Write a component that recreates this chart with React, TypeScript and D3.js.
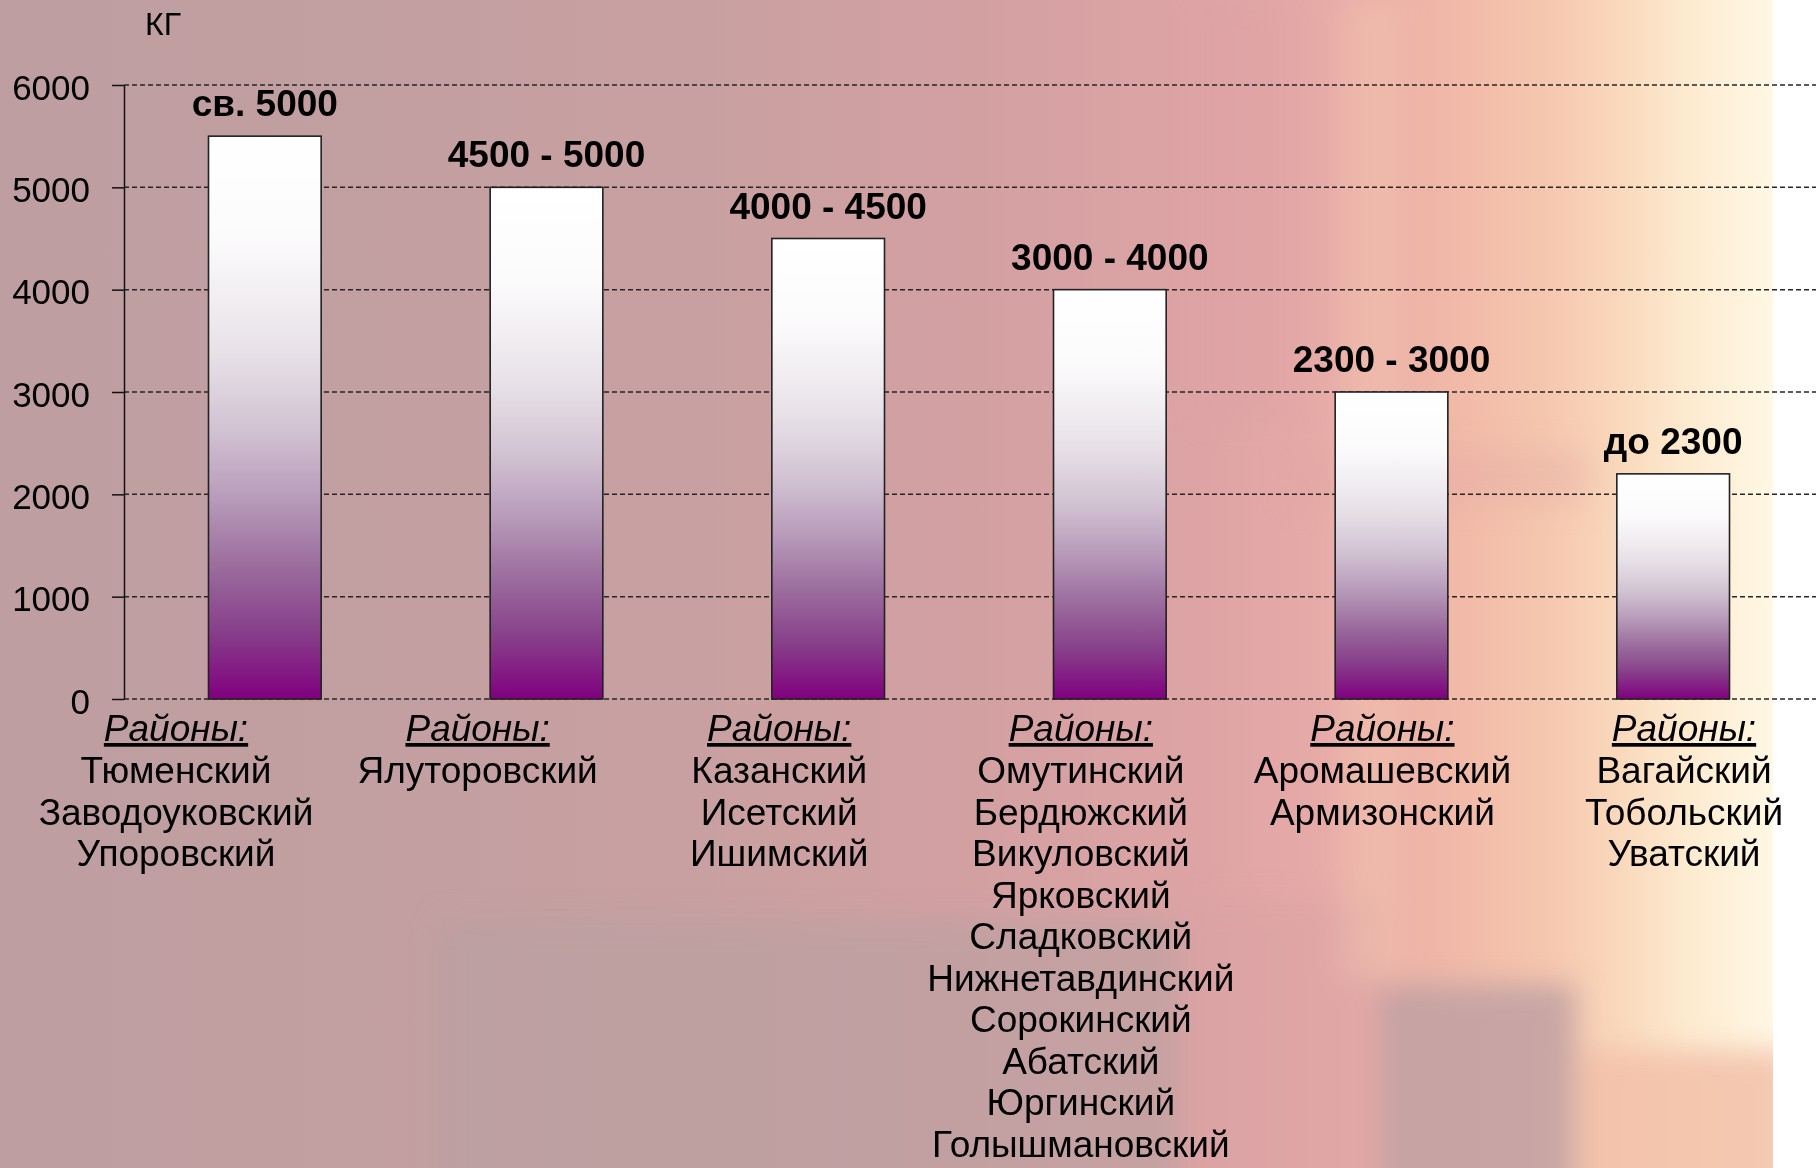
import React, { useRef, useEffect } from "react";
import * as d3 from "d3";

// chart data
const yUnit = "КГ";
const groupTitle = "Районы:";
const rangeLabels = ["св. 5000", "4500 - 5000", "4000 - 4500", "3000 - 4000", "2300 - 3000", "до 2300"];
const yieldValues = [5500, 5000, 4500, 4000, 3000, 2200];
const districts = [
  ["Тюменский", "Заводоуковский", "Упоровский"],
  ["Ялуторовский"],
  ["Казанский", "Исетский", "Ишимский"],
  [
    "Омутинский",
    "Бердюжский",
    "Викуловский",
    "Ярковский",
    "Сладковский",
    "Нижнетавдинский",
    "Сорокинский",
    "Абатский",
    "Юргинский",
    "Голышмановский",
  ],
  ["Аромашевский", "Армизонский"],
  ["Вагайский", "Тобольский", "Уватский"],
];
const yTicks = [0, 1000, 2000, 3000, 4000, 5000, 6000];

const W = 1816;
const H = 1168;
const FONT = "'Liberation Sans', Arial, sans-serif";

export const Chart = () => {
  const chartRef = useRef<SVGSVGElement>(null);

  useEffect(() => {
    document.body.style.margin = "0";
    if (chartRef.current === null) return;

    const svg = d3.select(chartRef.current);
    svg.selectAll("*").remove();
    svg.attr("width", W).attr("height", H);

    const plot = { top: 85, bottom: 699, left: 124, right: 1814 };
    const imgRight = 1773; // the photo behind the chart ends here, white after

    const idx = yieldValues.map((_, i) => i);

    const yScale = d3.scaleLinear().domain([0, 6000]).range([plot.bottom, plot.top]);
    const xScale = d3
      .scaleBand<number>()
      .domain(idx)
      .range([plot.left, plot.right])
      .paddingInner(0.6)
      .paddingOuter(0.3);
    // the district captions sit on their own, slightly wider spacing
    const labelScale = d3.scalePoint<number>().domain(idx).range([176, 1684]);

    const defs = svg.append("defs");

    const bg = defs
      .append("linearGradient")
      .attr("id", "bg")
      .attr("x1", 0)
      .attr("x2", 1)
      .attr("y1", 0)
      .attr("y2", 0);
    [
      [0, "#be9ea1"],
      [0.2, "#c29fa1"],
      [0.4, "#c9a0a1"],
      [0.55, "#d3a0a2"],
      [0.68, "#dea4a5"],
      [0.76, "#e8aca8"],
      [0.82, "#f1b9a8"],
      [0.87, "#f5c6ae"],
      [0.91, "#f9d7ba"],
      [0.95, "#fdeacf"],
      [1, "#fff8e4"],
    ].forEach(([o, c]) => bg.append("stop").attr("offset", o as number).attr("stop-color", c as string));

    const barFill = defs
      .append("linearGradient")
      .attr("id", "barFill")
      .attr("x1", 0)
      .attr("x2", 0)
      .attr("y1", 0)
      .attr("y2", 1);
    [
      [0, "#ffffff"],
      [0.18, "#fcfbfc"],
      [0.38, "#e8e2e8"],
      [0.52, "#d2c3d3"],
      [0.64, "#b99cbb"],
      [0.76, "#9c6e9e"],
      [0.88, "#873f8a"],
      [1, "#80007f"],
    ].forEach(([o, c]) => barFill.append("stop").attr("offset", o as number).attr("stop-color", c as string));

    defs
      .append("filter")
      .attr("id", "soft")
      .attr("x", "-30%")
      .attr("y", "-30%")
      .attr("width", "160%")
      .attr("height", "160%")
      .append("feGaussianBlur")
      .attr("stdDeviation", 14);

    defs
      .append("clipPath")
      .attr("id", "photo")
      .append("rect")
      .attr("x", 0)
      .attr("y", 0)
      .attr("width", imgRight)
      .attr("height", H);

    // background
    svg.append("rect").attr("width", W).attr("height", H).attr("fill", "#ffffff");
    const back = svg.append("g").attr("clip-path", "url(#photo)");
    back.append("rect").attr("width", imgRight).attr("height", H).attr("fill", "url(#bg)");
    const patches: [number, number, number, number, string, number][] = [
      [440, 920, 740, 300, "#b8a0a1", 0.6],
      [1180, 900, 200, 300, "#d9a1a3", 0.5],
      [1200, 0, 90, 420, "#dca0a4", 0.35],
      [1340, 0, 60, 980, "#f6c8b0", 0.4],
      [1290, 450, 300, 55, "#e2a5a3", 0.3],
      [1380, 985, 195, 220, "#c0a0a2", 0.85],
      [1575, 1050, 220, 160, "#f2c0a8", 0.85],
    ];
    back
      .append("g")
      .attr("filter", "url(#soft)")
      .selectAll("rect")
      .data(patches)
      .join("rect")
      .attr("x", (d) => d[0])
      .attr("y", (d) => d[1])
      .attr("width", (d) => d[2])
      .attr("height", (d) => d[3])
      .attr("fill", (d) => d[4])
      .attr("opacity", (d) => d[5]);

    // gridlines
    svg
      .append("g")
      .selectAll("line")
      .data(yTicks)
      .join("line")
      .attr("x1", plot.left)
      .attr("x2", W)
      .attr("y1", (d) => yScale(d))
      .attr("y2", (d) => yScale(d))
      .attr("stroke", "#262626")
      .attr("stroke-width", 1.5)
      .attr("stroke-dasharray", "5,3");

    // y axis
    const axis = svg
      .append("g")
      .attr("transform", `translate(${plot.left},0)`)
      .call(
        d3
          .axisLeft(yScale)
          .tickValues(yTicks)
          .tickFormat(d3.format("d"))
          .tickSize(12)
          .tickSizeOuter(0)
          .tickPadding(22)
      );
    axis.select(".domain").attr("stroke", "#111").attr("stroke-width", 1.5);
    axis.selectAll(".tick line").attr("stroke", "#111").attr("stroke-width", 1.5);
    axis
      .selectAll(".tick text")
      .attr("dy", "0.4em")
      .style("font-family", FONT)
      .style("font-size", "35px")
      .attr("fill", "#000");

    svg
      .append("text")
      .attr("x", 145)
      .attr("y", 35)
      .style("font-family", FONT)
      .style("font-size", "32px")
      .attr("fill", "#000")
      .text(yUnit);

    // bars
    svg
      .append("g")
      .selectAll("rect")
      .data(yieldValues)
      .join("rect")
      .attr("x", (_, i) => xScale(i)!)
      .attr("y", (d) => yScale(d))
      .attr("width", xScale.bandwidth())
      .attr("height", (d) => yScale(0) - yScale(d))
      .attr("fill", "url(#barFill)")
      .attr("stroke", "#222")
      .attr("stroke-width", 1.6);

    // range labels above bars
    svg
      .append("g")
      .selectAll("text")
      .data(yieldValues)
      .join("text")
      .attr("x", (_, i) => xScale(i)! + xScale.bandwidth() / 2)
      .attr("y", (d) => yScale(d) - 20)
      .attr("text-anchor", "middle")
      .style("font-family", FONT)
      .style("font-size", "37px")
      .style("font-weight", "bold")
      .attr("fill", "#000")
      .text((_, i) => rangeLabels[i]);

    // district captions
    const captions = svg
      .append("g")
      .selectAll("g")
      .data(districts)
      .join("g")
      .attr("transform", (_, i) => `translate(${labelScale(i)},0)`)
      .style("font-family", FONT)
      .style("font-size", "37px")
      .attr("text-anchor", "middle")
      .attr("fill", "#000");

    captions
      .append("text")
      .attr("y", 741)
      .style("font-style", "italic")
      .style("text-decoration", "underline")
      .text(groupTitle);

    captions
      .selectAll("text.name")
      .data((d) => d)
      .join("text")
      .attr("class", "name")
      .attr("y", (_, j) => 783 + j * 41.5)
      .text((d) => d);
  }, []);

  return <svg ref={chartRef} style={{ display: "block" }}></svg>;
};

export default function App() {
  return <Chart />;
}
